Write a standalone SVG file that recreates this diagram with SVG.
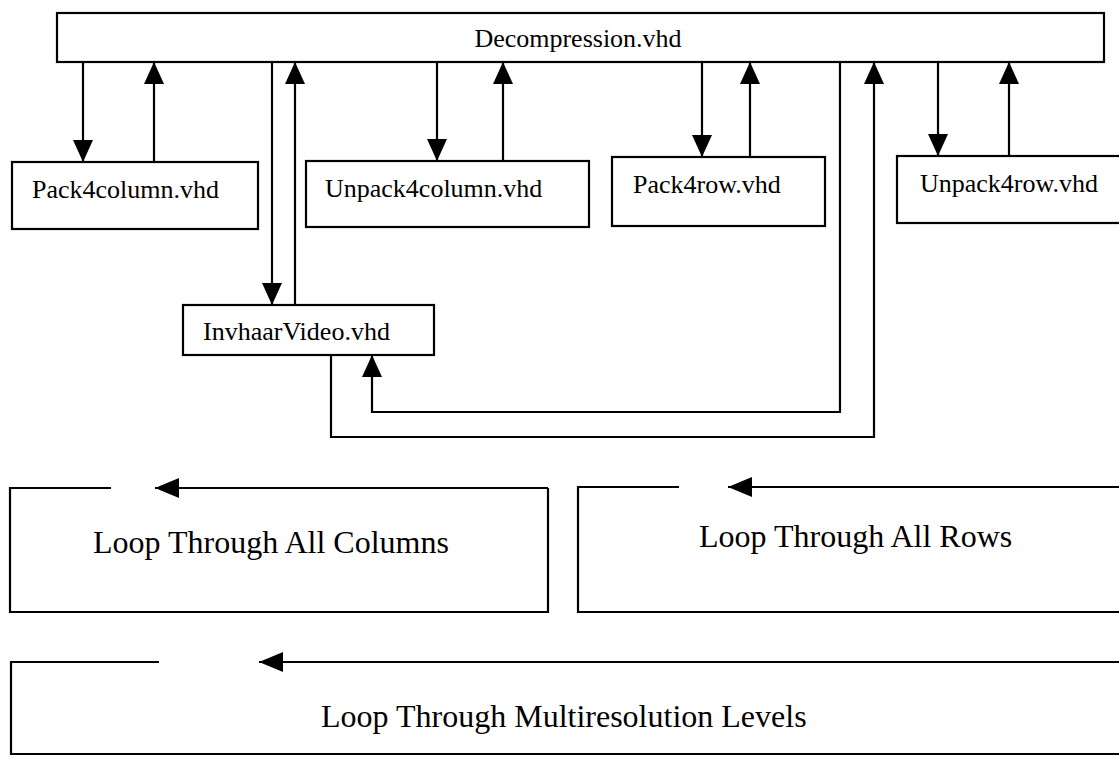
<svg xmlns="http://www.w3.org/2000/svg" width="1119" height="759" viewBox="0 0 1119 759">
  <style>
    .box { fill: #ffffff; stroke: #000000; stroke-width: 2.2; }
    .wire { fill: none; stroke: #000000; stroke-width: 2.2; }
    .arrow { fill: none; stroke: #000000; stroke-width: 2.2; marker-end: url(#head); }
    .loop-arrow { fill: none; stroke: #000000; stroke-width: 2.2; marker-end: url(#head-wide); }
    .lbl { font-family: "Liberation Serif", "Times New Roman", serif; font-size: 26px; fill: #000000; }
    .big { font-family: "Liberation Serif", "Times New Roman", serif; font-size: 32px; fill: #000000; }
  </style>
  <defs>
    <marker id="head" viewBox="0 0 22 20" refX="22" refY="10" markerWidth="22" markerHeight="20" markerUnits="userSpaceOnUse" orient="auto">
      <path d="M0,0 L22,10 L0,20 Z" fill="#000000"/>
    </marker>
    <marker id="head-wide" viewBox="0 0 24 20" refX="24" refY="10" markerWidth="24" markerHeight="20" markerUnits="userSpaceOnUse" orient="auto">
      <path d="M0,0 L24,10 L0,20 Z" fill="#000000"/>
    </marker>
  </defs>
  <rect width="1119" height="759" fill="#ffffff"/>

  <!-- calls between the top-level unit and its sub-units -->
  <g id="connectors">
    <line class="arrow" x1="83" y1="62" x2="83" y2="162"/>
    <line class="arrow" x1="154" y1="162" x2="154" y2="62"/>
    <line class="arrow" x1="272" y1="62" x2="272" y2="305"/>
    <line class="arrow" x1="295" y1="305" x2="295" y2="62"/>
    <line class="arrow" x1="437" y1="62" x2="437" y2="161"/>
    <line class="arrow" x1="503" y1="161" x2="503" y2="62"/>
    <line class="arrow" x1="702" y1="62" x2="702" y2="157"/>
    <line class="arrow" x1="750" y1="157" x2="750" y2="62"/>
    <line class="arrow" x1="938" y1="62" x2="938" y2="156"/>
    <line class="arrow" x1="1009" y1="156" x2="1009" y2="62"/>
    <!-- return paths around InvhaarVideo -->
    <polyline class="arrow" points="840,62 840,412 372,412 372,355"/>
    <polyline class="arrow" points="331,355 331,437 874,437 874,62"/>
  </g>

  <g id="decompression">
    <rect class="box" x="57" y="13" width="1047" height="49"/>
    <text class="lbl" x="578" y="47" text-anchor="middle">Decompression.vhd</text>
  </g>

  <g id="pack4column">
    <rect class="box" x="12" y="162" width="246" height="67"/>
    <text class="lbl" x="32" y="198">Pack4column.vhd</text>
  </g>

  <g id="unpack4column">
    <rect class="box" x="306" y="161" width="283" height="66"/>
    <text class="lbl" x="325" y="197">Unpack4column.vhd</text>
  </g>

  <g id="pack4row">
    <rect class="box" x="612" y="157" width="213" height="69"/>
    <text class="lbl" x="633" y="193">Pack4row.vhd</text>
  </g>

  <g id="unpack4row">
    <rect class="box" x="897" y="156" width="240" height="67"/>
    <text class="lbl" x="920" y="192">Unpack4row.vhd</text>
  </g>

  <g id="invhaarvideo">
    <rect class="box" x="183" y="305" width="251" height="50"/>
    <text class="lbl" x="203" y="340">InvhaarVideo.vhd</text>
  </g>

  <!-- loop frames: open at the top, closed by a leftward arrow -->
  <g id="loop-columns">
    <polyline class="wire" points="111,488 10,488 10,612 548,612 548,488"/>
    <line class="loop-arrow" x1="548" y1="488" x2="155" y2="488"/>
    <text class="big" x="93" y="553">Loop Through All Columns</text>
  </g>

  <g id="loop-rows">
    <polyline class="wire" points="679,487 578,487 578,612 1125,612"/>
    <line class="loop-arrow" x1="1125" y1="487" x2="728" y2="487"/>
    <text class="big" x="699" y="547">Loop Through All Rows</text>
  </g>

  <g id="loop-levels">
    <polyline class="wire" points="159,662 11,662 11,754 1125,754"/>
    <line class="loop-arrow" x1="1125" y1="662" x2="259" y2="662"/>
    <text class="big" x="321" y="727">Loop Through Multiresolution Levels</text>
  </g>
</svg>
